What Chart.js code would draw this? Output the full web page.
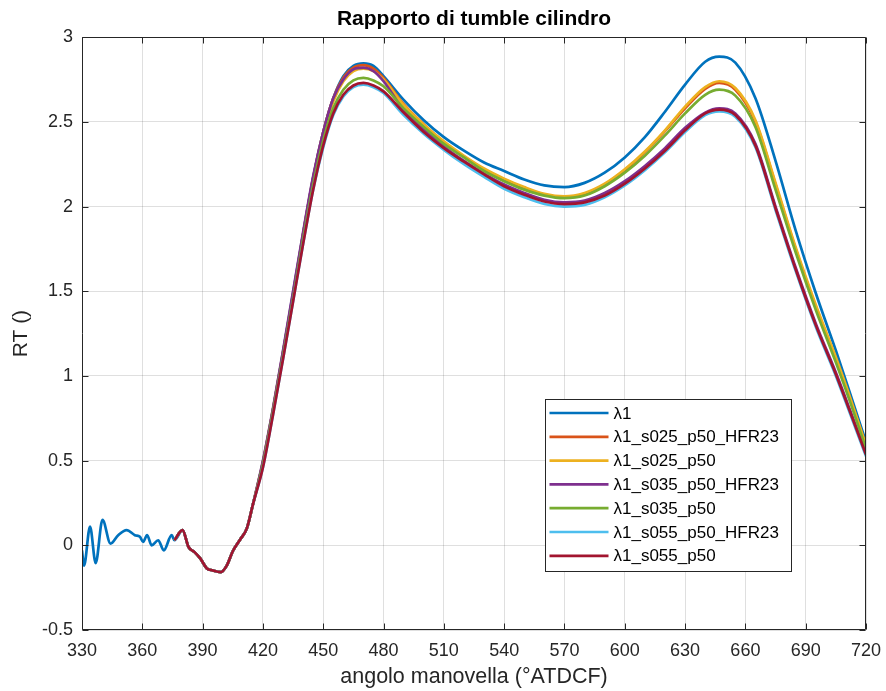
<!DOCTYPE html>
<html>
<head>
<meta charset="utf-8">
<title>Rapporto di tumble cilindro</title>
<script src="https://cdn.jsdelivr.net/npm/chart.js@4.4.1/dist/chart.umd.min.js"></script>
<style>
  html, body { margin: 0; padding: 0; background: #fff; }
  #wrap { width: 886px; height: 691px; }
</style>
</head>
<body>
<div id="wrap"><canvas id="rt" width="886" height="691"></canvas></div>
<script>
const FONT = 'Liberation Sans, Arial, Helvetica, sans-serif';
const AXIS_COLOR = '#262626';

const xTicks = [330, 360, 390, 420, 450, 480, 510, 540, 570, 600, 630, 660, 690, 720];
const yTicks = [-0.5, 0, 0.5, 1, 1.5, 2, 2.5, 3];

const seriesNames = ['λ1', 'λ1_s025_p50_HFR23', 'λ1_s025_p50', 'λ1_s035_p50_HFR23',
  'λ1_s035_p50', 'λ1_s055_p50_HFR23', 'λ1_s055_p50'];
const seriesColors = ['#0072BD', '#D95319', '#EDB120', '#7E2F8E', '#77AC30', '#4DBEEE', '#A2142F'];

// only λ1 has data before ~375°
const earlyAngle = [330, 331, 334, 336.8, 340.2, 344.2, 348, 352.2, 356.3, 358.8, 360.4, 362.4, 364.6, 367.9, 370.7, 374.6];
const lambda1Early = [-0.03, -0.12, 0.11, -0.105, 0.15, 0.01, 0.06, 0.09, 0.06, 0.05, 0.02, 0.06, 0.0, 0.03, -0.03, 0.06];

const angle = [376, 380, 383, 386, 389, 392, 395, 399, 402, 405, 409, 412, 415,
  420, 425, 430, 435, 440, 445, 450, 455, 460, 465, 470, 475, 480,
  490, 500, 510, 520, 530, 540, 550, 560, 570, 580, 590, 600, 610, 620, 630, 640,
  647, 655, 665, 675, 685, 695, 705, 712, 720];

const lambda1 = [0.03, 0.09, -0.01, -0.04, -0.08, -0.135, -0.148, -0.158, -0.12, -0.035, 0.04, 0.10, 0.24,
  0.49, 0.80, 1.14, 1.49, 1.84, 2.17, 2.44, 2.64, 2.77, 2.83, 2.845, 2.83, 2.77,
  2.63, 2.51, 2.41, 2.33, 2.26, 2.21, 2.16, 2.125, 2.115, 2.14, 2.20, 2.29, 2.41, 2.56, 2.72, 2.855,
  2.885, 2.85, 2.64, 2.27, 1.86, 1.49, 1.15, 0.90, 0.61];

const s025HFR = [0.03, 0.09, -0.01, -0.04, -0.08, -0.135, -0.148, -0.158, -0.12, -0.035, 0.04, 0.10, 0.24,
  0.49, 0.80, 1.14, 1.48, 1.84, 2.17, 2.44, 2.64, 2.76, 2.82, 2.835, 2.815, 2.76,
  2.605, 2.485, 2.38, 2.295, 2.22, 2.16, 2.11, 2.07, 2.055, 2.075, 2.13, 2.215, 2.32, 2.445, 2.58, 2.695,
  2.73, 2.69, 2.50, 2.13, 1.75, 1.41, 1.10, 0.87, 0.585];

const s025 = [0.03, 0.09, -0.01, -0.04, -0.08, -0.135, -0.148, -0.158, -0.12, -0.035, 0.04, 0.10, 0.24,
  0.49, 0.80, 1.13, 1.47, 1.83, 2.15, 2.42, 2.62, 2.74, 2.80, 2.815, 2.80, 2.75,
  2.60, 2.485, 2.385, 2.30, 2.225, 2.165, 2.115, 2.075, 2.06, 2.08, 2.135, 2.22, 2.325, 2.45, 2.59, 2.705,
  2.74, 2.70, 2.51, 2.14, 1.76, 1.42, 1.11, 0.875, 0.59];

const s035HFR = [0.03, 0.09, -0.01, -0.04, -0.08, -0.135, -0.148, -0.158, -0.12, -0.035, 0.04, 0.10, 0.24,
  0.50, 0.81, 1.15, 1.50, 1.85, 2.18, 2.44, 2.64, 2.75, 2.81, 2.82, 2.80, 2.74,
  2.57, 2.455, 2.355, 2.27, 2.195, 2.13, 2.08, 2.04, 2.025, 2.035, 2.08, 2.15, 2.24, 2.345, 2.465, 2.555,
  2.58, 2.55, 2.37, 2.00, 1.64, 1.31, 1.02, 0.80, 0.54];

const s035 = [0.03, 0.09, -0.01, -0.04, -0.08, -0.135, -0.148, -0.158, -0.12, -0.035, 0.04, 0.10, 0.24,
  0.48, 0.79, 1.12, 1.46, 1.81, 2.13, 2.39, 2.58, 2.69, 2.745, 2.76, 2.745, 2.71,
  2.58, 2.47, 2.37, 2.29, 2.21, 2.15, 2.10, 2.065, 2.05, 2.065, 2.12, 2.20, 2.30, 2.42, 2.55, 2.66,
  2.69, 2.655, 2.47, 2.10, 1.73, 1.39, 1.08, 0.85, 0.57];

const s055HFR = [0.03, 0.09, -0.01, -0.04, -0.08, -0.135, -0.148, -0.158, -0.12, -0.035, 0.04, 0.10, 0.24,
  0.46, 0.77, 1.10, 1.44, 1.78, 2.10, 2.35, 2.54, 2.65, 2.705, 2.72, 2.705, 2.67,
  2.54, 2.43, 2.335, 2.25, 2.175, 2.105, 2.055, 2.015, 2.0, 2.01, 2.055, 2.125, 2.215, 2.32, 2.44, 2.54,
  2.562, 2.53, 2.35, 1.98, 1.62, 1.29, 1.00, 0.78, 0.525];

const s055 = [0.03, 0.09, -0.01, -0.04, -0.08, -0.135, -0.148, -0.158, -0.12, -0.035, 0.04, 0.10, 0.24,
  0.46, 0.77, 1.10, 1.44, 1.78, 2.10, 2.36, 2.55, 2.66, 2.715, 2.73, 2.715, 2.68,
  2.555, 2.44, 2.345, 2.265, 2.19, 2.12, 2.07, 2.03, 2.015, 2.025, 2.065, 2.135, 2.225, 2.33, 2.45, 2.55,
  2.572, 2.54, 2.36, 1.99, 1.63, 1.30, 1.01, 0.79, 0.535];

function points( xs, ys ) {
	return xs.map( ( x, i ) => ( { x: x, y: ys[ i ] } ) );
}

const seriesData = [
	points( earlyAngle, lambda1Early ).concat( points( angle, lambda1 ) ),
	points( angle, s025HFR ),
	points( angle, s025 ),
	points( angle, s035HFR ),
	points( angle, s035 ),
	points( angle, s055HFR ),
	points( angle, s055 )
];

// box around the axes with inward ticks on all four sides
const axesFrame = {
	id: 'axesFrame',
	afterDatasetsDraw( chart ) {
		const { ctx, chartArea: a, scales } = chart;
		const L = Math.round( a.left ) + 0.5, R = Math.round( a.right ) - 0.5;
		const T = Math.round( a.top ) + 0.5, B = Math.round( a.bottom ) - 0.5;
		const len = 6;
		ctx.save();
		ctx.strokeStyle = AXIS_COLOR;
		ctx.lineWidth = 1;
		ctx.beginPath();
		ctx.rect( L, T, R - L, B - T );
		xTicks.forEach( v => {
			const px = Math.round( scales.x.getPixelForValue( v ) ) + 0.5;
			ctx.moveTo( px, B ); ctx.lineTo( px, B - len );
			ctx.moveTo( px, T ); ctx.lineTo( px, T + len );
		} );
		yTicks.forEach( v => {
			const py = Math.round( scales.y.getPixelForValue( v ) ) + 0.5;
			ctx.moveTo( L, py ); ctx.lineTo( L + len, py );
			ctx.moveTo( R, py ); ctx.lineTo( R - len, py );
		} );
		ctx.stroke();
		ctx.restore();
	}
};

// legend box in the lower right of the axes
const boxLegend = {
	id: 'boxLegend',
	afterDraw( chart ) {
		const { ctx, chartArea: a } = chart;
		const fontSize = 17;
		const rowH = 23.8;
		const sample = 59;
		ctx.save();
		ctx.font = fontSize + 'px ' + FONT;
		const textW = Math.max( ...seriesNames.map( n => ctx.measureText( n ).width ) );
		const x0 = Math.round( a.left + 463 ) + 0.5;
		const y0 = Math.round( a.top + 362 ) + 0.5;
		const w = Math.round( 4 + sample + 5 + textW + 13 );
		const h = Math.round( rowH * seriesNames.length + 5 );
		ctx.fillStyle = '#fff';
		ctx.fillRect( x0, y0, w, h );
		ctx.strokeStyle = AXIS_COLOR;
		ctx.lineWidth = 1;
		ctx.strokeRect( x0, y0, w, h );
		ctx.textBaseline = 'middle';
		ctx.textAlign = 'left';
		seriesNames.forEach( ( name, i ) => {
			const cy = y0 + 13.5 + i * rowH;
			ctx.strokeStyle = seriesColors[ i ];
			ctx.lineWidth = 2.7;
			ctx.beginPath();
			ctx.moveTo( x0 + 4, cy );
			ctx.lineTo( x0 + 4 + sample, cy );
			ctx.stroke();
			ctx.fillStyle = '#000';
			ctx.fillText( name, x0 + 4 + sample + 5, cy + 1 );
		} );
		ctx.restore();
	}
};

const gridColor = 'rgba(38,38,38,0.15)';

new Chart( document.getElementById( 'rt' ), {
	type: 'line',
	data: {
		datasets: seriesNames.map( ( name, i ) => ( {
			label: name,
			data: seriesData[ i ],
			borderColor: seriesColors[ i ],
			backgroundColor: seriesColors[ i ],
			borderWidth: 2.7,
			pointRadius: 0,
			cubicInterpolationMode: 'monotone',
			fill: false,
			order: seriesNames.length - 1 - i
		} ) )
	},
	options: {
		responsive: false,
		animation: false,
		events: [],
		layout: { padding: { left: 0, right: 20, top: 0, bottom: 0 } },
		plugins: {
			legend: { display: false },
			tooltip: { enabled: false },
			title: {
				display: true,
				fullSize: false,
				text: 'Rapporto di tumble cilindro',
				color: '#000',
				font: { family: FONT, size: 21, weight: 'bold' },
				padding: { top: 7, bottom: 5 }
			}
		},
		scales: {
			x: {
				type: 'linear',
				min: 330,
				max: 720,
				afterBuildTicks: s => { s.ticks = xTicks.map( v => ( { value: v } ) ); },
				afterFit: s => { s.height = 61; s.paddingLeft = 0; s.paddingRight = 0; },
				ticks: {
					color: AXIS_COLOR,
					font: { family: FONT, size: 18 },
					padding: 10,
					maxRotation: 0,
					autoSkip: false,
					callback: v => String( v )
				},
				grid: { color: gridColor, drawTicks: false },
				border: { display: false },
				title: {
					display: true,
					text: 'angolo manovella (°ATDCF)',
					color: AXIS_COLOR,
					font: { family: FONT, size: 21.5 },
					padding: { top: 0, bottom: 1 }
				}
			},
			y: {
				type: 'linear',
				min: -0.5,
				max: 3,
				afterBuildTicks: s => { s.ticks = yTicks.map( v => ( { value: v } ) ); },
				afterFit: s => { s.width = 82; },
				ticks: {
					color: AXIS_COLOR,
					font: { family: FONT, size: 18 },
					padding: 9,
					callback: v => String( v )
				},
				grid: { color: gridColor, drawTicks: false },
				border: { display: false },
				title: {
					display: true,
					text: 'RT ()',
					color: AXIS_COLOR,
					font: { family: FONT, size: 21 },
					padding: { top: 9, bottom: 0 }
				}
			}
		}
	},
	plugins: [ axesFrame, boxLegend ]
} );
</script>
</body>
</html>
